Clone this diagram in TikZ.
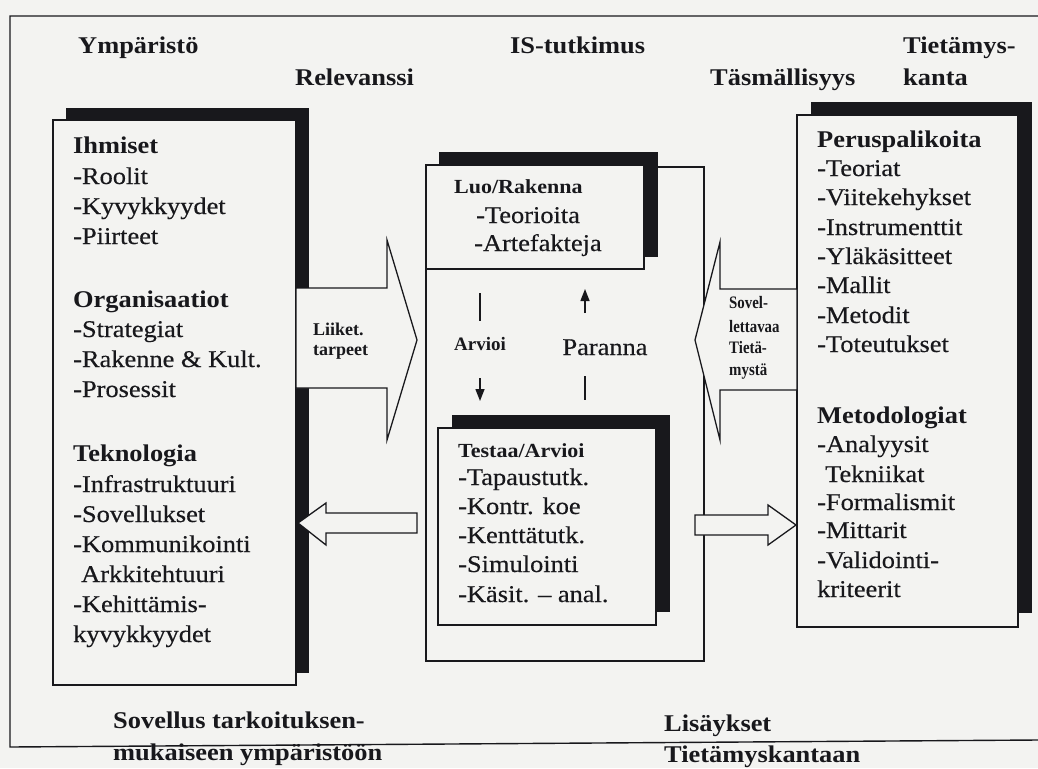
\documentclass[tikz,border=0pt]{standalone}
\usepackage{fontspec}
\setmainfont{Liberation Serif}[FakeStretch=1.1, UprightFeatures={FakeBold=0.4}]
\newfontfamily\plainfont{Liberation Serif}
\newfontfamily\condfont{Liberation Serif}[FakeStretch=0.85]
\usetikzlibrary{arrows.meta,fit}
\definecolor{bg}{RGB}{243,243,241}
\definecolor{ink}{RGB}{24,24,28}
\begin{document}
\begin{tikzpicture}[x=1pt,y=-1pt,
  txt/.style={anchor=base west, inner sep=0pt, text=ink, font=\fontsize{24}{28}\selectfont},
  btxt/.style={txt, font=\fontsize{24}{28}\selectfont\bfseries},
  sbtxt/.style={txt, font=\fontsize{20}{24}\selectfont\bfseries},
  lbltxt/.style={txt, font=\plainfont\fontsize{18}{20}\selectfont\bfseries},
  condtxt/.style={txt, font=\condfont\fontsize{17.5}{20}\selectfont\bfseries},
  frontbox/.style={draw=ink, line width=1.3pt, fill=bg, inner sep=0pt},
  shadowbox/.style={fill=ink, inner sep=0pt},
  outerbox/.style={draw=ink, line width=1.3pt, inner sep=0pt},
  blockarrow/.style={draw=ink, line width=1.3pt, fill=bg, line join=miter},
  thinline/.style={draw=ink, line width=1.4pt},
  frameline/.style={draw=ink, line width=1.4pt},
  tip/.style={-{Triangle[length=12pt,width=9pt]}}
]
\fill[bg] (0,0) rectangle (1038,768);
\useasboundingbox (0,0) rectangle (1038,768);

% outer frame
\coordinate (fTR) at (1038,16);
\coordinate (fTL) at (10,16);
\coordinate (fBL) at (10,747);
\coordinate (fBR) at (1038,740);
\draw[frameline] (fTR) -- (fTL) -- (fBL) -- (fBR);

% left column: environment
\node[shadowbox, fit={(66,108)(309,673)}] (envS) {};
\node[frontbox, fit={(53,120)(296,685)}] (env) {};

% right column: knowledge base
\node[shadowbox, fit={(811,102)(1032,613)}] (kbS) {};
\node[frontbox, fit={(797,115)(1018,627)}] (kb) {};

% middle column: IS research
\node[outerbox, fit={(426,167)(704,661)}] (is) {};
\node[shadowbox, fit={(439,152)(658,257)}] (luoS) {};
\node[frontbox, fit={(426,165)(644,269)}] (luo) {};
\node[shadowbox, fit={(452,415)(670,612)}] (testS) {};
\node[frontbox, fit={(438,428)(656,625)}] (test) {};

% block arrows
\draw[blockarrow] (296,288) -- (387,288) -- (387,240) -- (417,340) -- (387,440) -- (387,388) -- (296,388) -- cycle;
\draw[blockarrow] (797,289) -- (720,289) -- (720,242) -- (695,340) -- (720,440) -- (720,390) -- (797,390) -- cycle;
\draw[blockarrow] (417,513) -- (326,513) -- (326,503) -- (298,523) -- (326,545) -- (326,533) -- (417,533) -- cycle;
\draw[blockarrow] (695,515) -- (768,515) -- (768,505) -- (796,525) -- (768,545) -- (768,535) -- (695,535) -- cycle;

% Arvioi / Paranna arrows
\coordinate (arvA) at (480,293);
\coordinate (arvB) at (480,321);
\coordinate (arvC) at (480,378);
\coordinate (arvD) at (480,401);
\draw[thinline] (arvA) -- (arvB);
\draw[thinline, tip] (arvC) -- (arvD);
\coordinate (parA) at (585,313);
\coordinate (parB) at (585,289);
\coordinate (parC) at (585,376);
\coordinate (parD) at (585,400);
\draw[thinline, tip] (parA) -- (parB);
\draw[thinline] (parC) -- (parD);
\node[lbltxt, font=\plainfont\fontsize{19}{22}\selectfont\bfseries, anchor=base] (arvioi) at (480,350) {Arvioi};
\node[txt, anchor=base] (paranna) at (605,355) {Paranna};

% headings
\node[btxt] (hdEnv) at (78,53) {Ympäristö};
\node[btxt] (hdRel) at (295,85) {Relevanssi};
\node[btxt] (hdIS) at (510,53) {IS-tutkimus};
\node[btxt] (hdRig) at (710,85) {Täsmällisyys};
\node[btxt] (hdKB1) at (903,53) {Tietämys-};
\node[btxt] (hdKB2) at (903,85) {kanta};
\node[btxt] (ftA1) at (113,728) {Sovellus tarkoituksen-};
\node[btxt] (ftA2) at (113,760) {mukaiseen ympäristöön};
\node[btxt] (ftB1) at (664,731) {Lisäykset};
\node[btxt] (ftB2) at (664,762) {Tietämyskantaan};

% left box text
\node[btxt] (e1) at (73,153) {Ihmiset};
\node[txt] (e2) at (73,184) {-Roolit};
\node[txt] (e3) at (73,214) {-Kyvykkyydet};
\node[txt] (e4) at (73,244) {-Piirteet};
\node[btxt] (e5) at (73,307) {Organisaatiot};
\node[txt] (e6) at (73,337) {-Strategiat};
\node[txt] (e7) at (73,367) {-Rakenne \& Kult.};
\node[txt] (e8) at (73,397) {-Prosessit};
\node[btxt] (e9) at (73,461) {Teknologia};
\node[txt] (e10) at (73,492) {-Infrastruktuuri};
\node[txt] (e11) at (73,522) {-Sovellukset};
\node[txt] (e12) at (73,552) {-Kommunikointi};
\node[txt] (e13) at (81,582) {Arkkitehtuuri};
\node[txt] (e14) at (73,612) {-Kehittämis-};
\node[txt] (e15) at (73,642) {kyvykkyydet};

% right box text
\node[btxt] (k1) at (817,147) {Peruspalikoita};
\node[txt] (k2) at (817,176) {-Teoriat};
\node[txt] (k3) at (817,205) {-Viitekehykset};
\node[txt] (k4) at (817,235) {-Instrumenttit};
\node[txt] (k5) at (817,264) {-Yläkäsitteet};
\node[txt] (k6) at (817,293) {-Mallit};
\node[txt] (k7) at (817,323) {-Metodit};
\node[txt] (k8) at (817,352) {-Toteutukset};
\node[btxt] (k9) at (817,423) {Metodologiat};
\node[txt] (k10) at (817,452) {-Analyysit};
\node[txt] (k11) at (825,482) {Tekniikat};
\node[txt] (k12) at (817,510) {-Formalismit};
\node[txt] (k13) at (817,538) {-Mittarit};
\node[txt] (k14) at (817,568) {-Validointi-};
\node[txt] (k15) at (817,597) {kriteerit};

% middle boxes text
\node[sbtxt] (l1) at (454,193) {Luo/Rakenna};
\node[txt] (l2) at (476,223) {-Teorioita};
\node[txt] (l3) at (474,251) {-Artefakteja};
\node[sbtxt] (t1) at (458,457) {Testaa/Arvioi};
\node[txt] (t2) at (458,485) {-Tapaustutk.};
\node[txt] (t3) at (458,514) {-Kontr. koe};
\node[txt] (t4) at (458,543) {-Kenttätutk.};
\node[txt] (t5) at (458,572) {-Simulointi};
\node[txt] (t6) at (458,602) {-Käsit. -- anal.};

% arrow labels
\node[lbltxt] (nd1) at (313,335) {Liiket.};
\node[lbltxt] (nd2) at (313,355) {tarpeet};
\node[condtxt] (ak1) at (729,308) {Sovel-};
\node[condtxt] (ak2) at (729,332) {lettavaa};
\node[condtxt] (ak3) at (729,353) {Tietä-};
\node[condtxt] (ak4) at (729,375) {mystä};
\end{tikzpicture}
\end{document}
